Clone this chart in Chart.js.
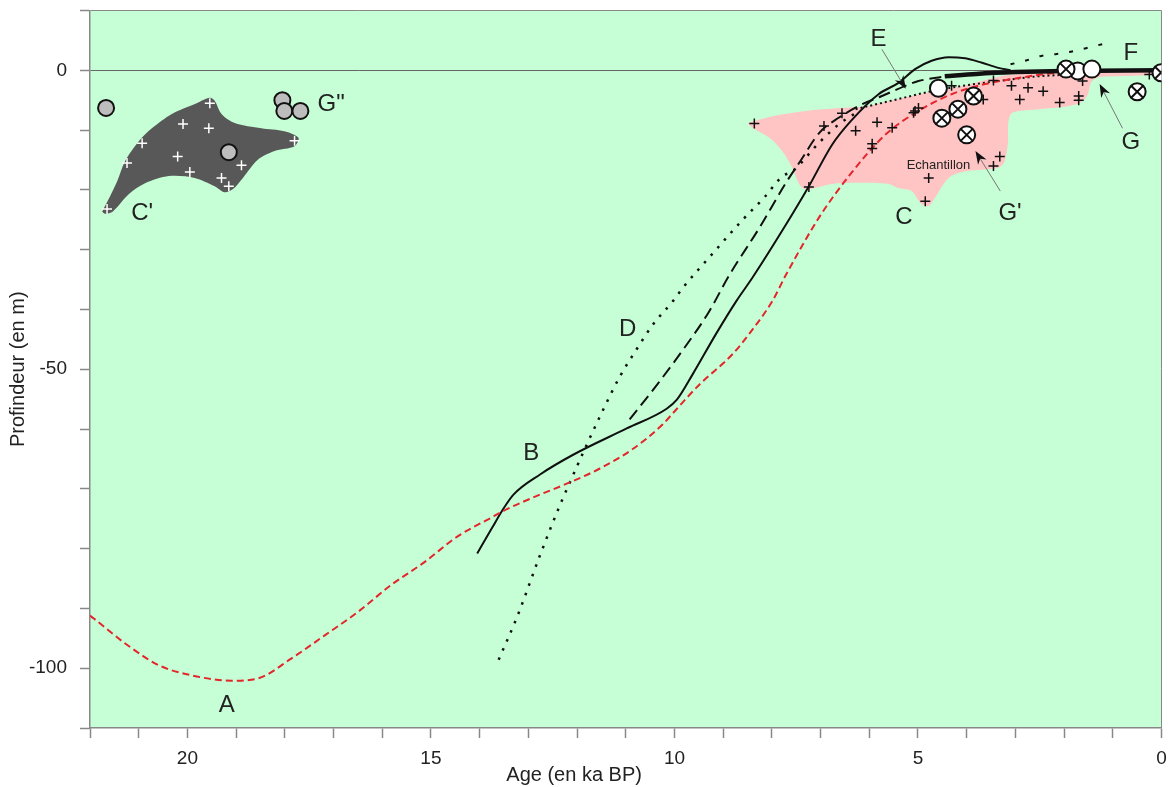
<!DOCTYPE html>
<html>
<head>
<meta charset="utf-8">
<script src="https://cdn.jsdelivr.net/npm/chart.js@4.4.0/dist/chart.umd.min.js"></script>
<style>
  html, body { margin: 0; padding: 0; background: #fff; overflow: hidden; }
  canvas { display: block; }
</style>
</head>
<body>
<canvas id="myChart" width="1172" height="787"></canvas>
<script>
// axes
const xTickLabels = [20, 15, 10, 5, 0];
const yTickLabels = [0, -50, -100];

// courbes (age ka BP, profondeur m)
const curveA = [[22.0,-91.2],[21.92,-91.7],[21.27,-95.9],[20.59,-99.5],[19.91,-101.2],[19.09,-102.1],[18.55,-101.7],[17.87,-98.4],[17.18,-94.5],[16.5,-90.6],[15.82,-86.1],[15.14,-82.3],[14.46,-78.0],[13.78,-74.9],[13.44,-73.4],[12.8,-71.1],[12.2,-69.1],[11.53,-66.6],[10.85,-63.3],[10.24,-59.2],[9.95,-56.6],[9.48,-52.5],[8.81,-47.5],[8.43,-43.7],[7.99,-38.6],[7.71,-34.2],[7.03,-24.6],[6.4,-17.5],[5.66,-10.7],[4.99,-6.8],[4.31,-4.0],[3.62,-2.3],[2.94,-1.3],[2.27,-0.5],[1.5,-0.2],[0,-0.1]];
const curveB = [[14.05,-80.8],[13.75,-76.6],[13.51,-73.3],[13.31,-71.0],[12.76,-67.6],[12.08,-64.3],[10.98,-59.9],[10.16,-56.6],[9.95,-55.1],[9.63,-50.9],[9.14,-44.0],[8.73,-38.6],[8.4,-34.7],[7.71,-25.8],[7.24,-19.4],[6.76,-12.4],[6.38,-8.5],[5.81,-4.0],[5.4,-2.1],[5.06,0.2],[4.72,1.6],[4.37,2.2],[4.03,2.0],[3.7,1.3],[3.35,0.4],[3.1,0]];
const curveD = [[13.61,-98.6],[13.23,-91.4],[12.76,-81.1],[12.35,-72.7],[12.14,-68.8],[11.8,-62.6],[11.53,-57.9],[11.12,-51.2],[10.78,-46.7],[10.44,-42.5],[10.03,-38.6],[9.83,-36.4],[9.21,-30.6],[8.6,-25.0],[8.16,-21.3],[7.78,-17.7],[7.58,-16.9],[7.03,-12.1],[6.62,-9.0],[6.21,-6.8]];
const curveDtop = [[6.28,-6.5],[5.4,-4.8],[4.72,-3.5],[4.0,-2.5],[3.35,-1.8],[2.53,-1.0],[2.1,-0.8]];
const curveUpper = [[3.1,1.0],[2.8,1.6],[2.47,2.4],[2.17,2.7],[1.86,3.1],[1.55,3.7],[1.2,4.4]];
const curveE = [[10.92,-58.4],[10.34,-52.4],[9.75,-45.9],[9.3,-40.5],[8.87,-34.2],[8.26,-26.4],[7.71,-18.8],[7.4,-15.0],[7.03,-10.5],[6.62,-7.9],[6.15,-5.7],[5.74,-4.3],[5.26,-2.6],[4.99,-1.8],[4.58,-1.2],[4.0,-0.6]];
const curveF = [[4.45,-1.0],[3.8,-0.6],[3.0,-0.3],[2.0,-0.1],[0,0]];

// zones
const zoneC = [[8.5,-8.8],[7.99,-7.7],[7.3,-6.8],[6.62,-6.3],[6.08,-6.0],[5.4,-4.8],[4.73,-3.6],[4.05,-2.6],[3.56,-1.5],[3.15,-0.8],[2.53,-0.45],[1.31,-0.3],[0,-0.3],[0.08,-0.7],[0.9,-1.0],[1.31,-1.2],[1.45,-2.1],[1.51,-4.0],[1.66,-5.4],[1.92,-6.0],[2.53,-6.5],[2.94,-6.8],[3.09,-7.3],[3.15,-9.0],[3.15,-11.8],[3.22,-15.2],[3.35,-16.3],[3.62,-16.6],[4.03,-16.9],[4.37,-18.0],[4.65,-21.3],[4.78,-22.7],[4.93,-22.4],[5.13,-20.2],[5.4,-19.7],[5.6,-19.0],[6.28,-18.8],[6.77,-19.0],[7.3,-19.9],[7.44,-19.0],[7.58,-16.3],[7.79,-13.5],[8.05,-11.3],[8.4,-9.6],[8.5,-8.8]];
const zoneC2 = [[21.75,-23.6],[21.59,-21.1],[21.44,-18.5],[21.28,-15.2],[20.99,-11.8],[20.73,-9.7],[20.32,-7.3],[19.81,-5.5],[19.54,-4.6],[19.44,-5.1],[19.3,-7.3],[19.03,-8.8],[18.48,-9.7],[18.01,-10.2],[17.72,-11.3],[17.8,-12.7],[18.21,-13.5],[18.56,-15.0],[18.86,-18.0],[19.07,-19.9],[19.24,-20.4],[19.44,-19.4],[19.85,-18.0],[20.38,-17.7],[20.87,-18.9],[21.2,-20.7],[21.53,-23.6],[21.69,-24.0],[21.75,-23.6]];

// echantillons
const samplesC = [[8.36,-8.9],[6.93,-9.3],[6.56,-7.2],[6.28,-10.1],[5.84,-8.7],[5.53,-9.6],[5.94,-12.3],[5.94,-13.1],[5.09,-7.1],[7.24,-19.5],[5.06,-6.8],[4.99,-6.3],[4.31,-2.6],[3.66,-4.9],[3.45,-1.7],[3.08,-2.6],[2.74,-2.9],[2.91,-4.9],[3.32,-14.4],[3.45,-16.0],[4.78,-18.0],[4.85,-21.9],[2.43,-3.5],[2.09,-5.4],[1.7,-4.3],[1.7,-5.0],[0.25,-0.7],[1.62,-1.8]];
const samplesC2 = [[19.54,-5.5],[20.09,-9.0],[19.56,-9.7],[20.93,-12.2],[20.2,-14.4],[21.24,-15.5],[18.89,-15.9],[19.95,-17.0],[19.3,-18.0],[19.15,-19.4],[17.8,-11.8],[21.65,-23.2]];
const pointsG = [[4.58,-3.0],[1.72,-0.1],[1.43,0.2]];
const pointsG1 = [[3.86,-4.3],[4.18,-6.5],[4.51,-8.0],[4.0,-10.8],[1.96,0.2],[0.01,-0.4],[0.5,-3.6]];
const pointsG2 = [[21.67,-6.3],[19.15,-13.7],[18.05,-5.0],[18.01,-6.8],[17.68,-6.8]];

// textes et fleches
const labels = [
  ['A', 19.19, -106.2], ['B', 12.94, -64.1], ['C', 5.29, -24.6], ["C'", 20.93, -24.0],
  ['D', 10.96, -43.3], ['E', 5.81, 5.2], ['F', 0.63, 2.9], ['G', 0.63, -12.0],
  ["G'", 3.11, -24.0], ['G"', 17.05, -5.7]
];
const arrows = [[5.74, 3.5, 5.25, -3.1], [3.31, -20.2, 3.82, -13.5], [0.8, -9.7, 1.27, -2.3]];

const pts = arr => arr.map(([x, y]) => ({ x, y }));
const FONT = '"Liberation Sans", Arial, Helvetica, sans-serif';
Chart.defaults.font.family = FONT;
Chart.defaults.color = '#222';

const line = (data, color, width, dash, order) => ({
  data: pts(data), showLine: true, borderColor: color, borderWidth: width,
  borderDash: dash, pointRadius: 0, cubicInterpolationMode: 'monotone', fill: false, order
});
const zone = (data, color) => ({
  data: pts(data), showLine: true, borderWidth: 0, borderColor: color,
  backgroundColor: color, fill: 'shape', pointRadius: 0, tension: 0.3, order: 20
});
const marks = (data, style, r, fillC, lineC, bw, order) => ({
  data: pts(data), pointStyle: style, pointRadius: r, backgroundColor: fillC,
  borderColor: lineC, pointBorderWidth: bw, borderWidth: bw, order
});

const decor = {
  id: 'decor',
  beforeDraw(chart) {
    const { ctx, chartArea: a } = chart;
    ctx.save();
    ctx.fillStyle = '#c6ffd6';
    ctx.fillRect(a.left, a.top, a.right - a.left, a.bottom - a.top);
    ctx.restore();
  },
  afterDatasetsDraw(chart) {
    const { ctx, scales: { x, y } } = chart;
    ctx.save();
    arrows.forEach(([x0, y0, x1, y1]) => {
      const px0 = x.getPixelForValue(x0), py0 = y.getPixelForValue(y0);
      const px1 = x.getPixelForValue(x1), py1 = y.getPixelForValue(y1);
      const ang = Math.atan2(py1 - py0, px1 - px0);
      ctx.strokeStyle = '#777';
      ctx.lineWidth = 1;
      ctx.beginPath();
      ctx.moveTo(px0, py0);
      ctx.lineTo(px1 - 8 * Math.cos(ang), py1 - 8 * Math.sin(ang));
      ctx.stroke();
      ctx.fillStyle = '#111';
      ctx.beginPath();
      ctx.moveTo(px1, py1);
      ctx.lineTo(px1 - 13 * Math.cos(ang) + 5 * Math.sin(ang), py1 - 13 * Math.sin(ang) - 5 * Math.cos(ang));
      ctx.lineTo(px1 - 9 * Math.cos(ang), py1 - 9 * Math.sin(ang));
      ctx.lineTo(px1 - 13 * Math.cos(ang) - 5 * Math.sin(ang), py1 - 13 * Math.sin(ang) + 5 * Math.cos(ang));
      ctx.closePath();
      ctx.fill();
    });
    ctx.fillStyle = '#222';
    ctx.textAlign = 'center';
    ctx.textBaseline = 'middle';
    ctx.font = '24px ' + FONT;
    labels.forEach(([t, vx, vy]) => ctx.fillText(t, x.getPixelForValue(vx), y.getPixelForValue(vy)));
    ctx.font = '13px ' + FONT;
    ctx.fillText('Echantillon', x.getPixelForValue(4.58), y.getPixelForValue(-15.9));
    ctx.font = '20px ' + FONT;
    ctx.fillText('Age (en ka BP)', x.getPixelForValue(12.06), 775);
    ctx.restore();
  }
};

new Chart(document.getElementById('myChart'), {
  type: 'scatter',
  data: {
    datasets: [
      zone(zoneC, '#ffc4c4'),
      zone(zoneC2, '#585858'),
      line(curveA, '#e3262b', 2, [7, 4], 10),
      line(curveB, '#111', 2, [], 10),
      line(curveD, '#111', 2.5, [2.5, 7.5], 10),
      line(curveDtop, '#111', 2, [2, 3], 10),
      line(curveUpper, '#111', 2, [4, 11], 10),
      line(curveE, '#111', 2, [12, 6], 10),
      line(curveF, '#111', 4.5, [], 9),
      marks(samplesC, 'cross', 5, '#111', '#111', 1.5, 6),
      marks(samplesC2, 'cross', 5, '#fff', '#fff', 1.5, 6),
      marks(pointsG2, 'circle', 8, '#bdbdbd', '#111', 2, 4),
      marks(pointsG, 'circle', 8.5, '#fff', '#111', 2, 4),
      marks(pointsG1, 'circle', 8.5, '#fff', '#111', 2, 3),
      marks(pointsG1, 'crossRot', 8.5, '#111', '#111', 2, 2)
    ]
  },
  options: {
    responsive: false,
    animation: false,
    devicePixelRatio: 1,
    layout: { padding: { top: 10, right: 8, left: 0, bottom: 0 } },
    plugins: { legend: { display: false }, tooltip: { enabled: false } },
    scales: {
      x: {
        type: 'linear', reverse: true, min: 0, max: 22,
        afterFit: s => {
          s.height = 59; s.paddingLeft = 0; s.paddingRight = 0;
          if (s._margins) { s._margins.left = 0; s._margins.right = 0; }
        },
        border: { color: '#888', width: 1.5 },
        grid: {
          drawOnChartArea: true, tickLength: 10, tickColor: '#888', tickWidth: 1.5,
          color: c => (c.tick && c.tick.value === 0 ? '#888' : 'rgba(0,0,0,0)')
        },
        ticks: {
          stepSize: 1, padding: 9, maxRotation: 0, autoSkip: false,
          font: { size: 19 }, color: '#222',
          callback: v => (xTickLabels.includes(v) ? String(v) : '')
        }
      },
      y: {
        min: -110, max: 10,
        afterFit: s => { s.width = 90; s.paddingTop = 0; s.paddingBottom = 0; },
        border: { color: '#888', width: 1.5 },
        grid: {
          drawOnChartArea: true, tickLength: 10, tickColor: '#888', tickWidth: 1.5,
          color: c => (c.tick && c.tick.value === 0 ? '#666' : (c.tick && c.tick.value === 10 ? '#888' : 'rgba(0,0,0,0)'))
        },
        ticks: {
          stepSize: 10, padding: 13, autoSkip: false,
          font: { size: 19 }, color: '#222',
          callback: v => (yTickLabels.includes(v) ? String(v) : '')
        },
        title: { display: true, text: 'Profindeur (en m)', font: { size: 20 }, color: '#222', padding: { top: 6, bottom: 0 } }
      }
    }
  },
  plugins: [decor]
});
</script>
</body>
</html>
